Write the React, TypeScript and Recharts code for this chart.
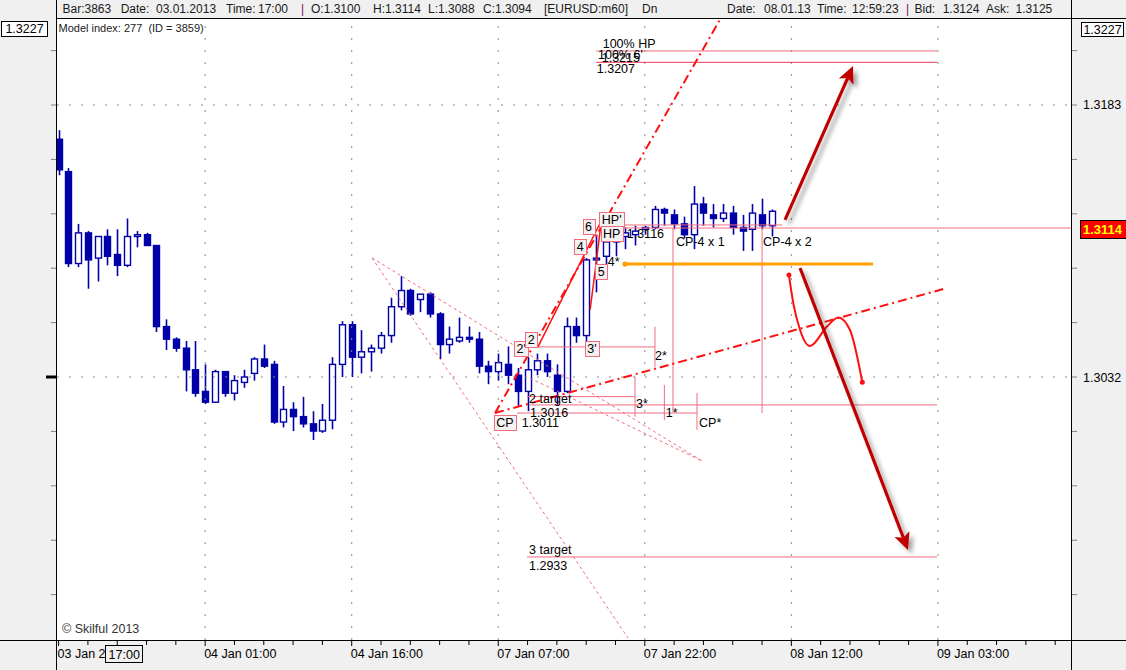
import React from 'react';
import { ComposedChart, XAxis, YAxis, Bar, Scatter, Line, ReferenceLine } from 'recharts';

const FONT = '"Liberation Sans", Arial, sans-serif';
const BLUE = '#0000a8';
const PINK = '#f26c7e';
const PINK2 = '#ee3858';
const RED = '#ff1010';
const DARKRED = '#c00000';
const ORANGE = '#ffa000';
const GRID = '#8a8a8a';

// ---- candle data (EURUSD m60) ----
const opens = [1.3164, 1.3146, 1.3095, 1.3112, 1.3098, 1.3110, 1.3100, 1.3094, 1.3110, 1.3111,
  1.3105, 1.3060, 1.3053, 1.3048, 1.3036, 1.3024, 1.3018, 1.3035, 1.3023, 1.3029,
  1.3034, 1.3042, 1.3039, 1.3007, 1.3014, 1.3010, 1.3006, 1.3002, 1.3008, 1.3039,
  1.3061, 1.3043, 1.3046, 1.3048, 1.3055, 1.3071, 1.3080, 1.3075, 1.3078, 1.3067,
  1.3050, 1.3052, 1.3054, 1.3053, 1.3038, 1.3035, 1.3039, 1.3033, 1.3024, 1.3036,
  1.3041, 1.3033, 1.3024, 1.3060, 1.3055, 1.3097, 1.3099, 1.3107, 1.3110, 1.3111,
  1.3114, 1.3115, 1.3125, 1.3122, 1.3117, 1.3111, 1.3128, 1.3122, 1.3120, 1.3123,
  1.3115, 1.3114, 1.3122, 1.3116];
const highs = [1.3169, 1.3148, 1.3117, 1.3113, 1.3110, 1.3114, 1.3114, 1.3120, 1.3113, 1.3112,
  1.3105, 1.3064, 1.3054, 1.3052, 1.3052, 1.3039, 1.3036, 1.3035, 1.3033, 1.3036,
  1.3043, 1.3050, 1.3041, 1.3027, 1.3018, 1.3021, 1.3013, 1.3017, 1.3043, 1.3063,
  1.3063, 1.3058, 1.3050, 1.3057, 1.3076, 1.3088, 1.3081, 1.3078, 1.3079, 1.3068,
  1.3060, 1.3065, 1.3060, 1.3057, 1.3041, 1.3045, 1.3049, 1.3037, 1.3043, 1.3045,
  1.3045, 1.3039, 1.3065, 1.3065, 1.3098, 1.3111, 1.3111, 1.3120, 1.3115, 1.3116,
  1.3116, 1.3127, 1.3126, 1.3125, 1.3121, 1.3138, 1.3132, 1.3128, 1.3128, 1.3127,
  1.3122, 1.3128, 1.3131, 1.3125];
const lows = [1.3144, 1.3093, 1.3093, 1.3081, 1.3085, 1.3094, 1.3088, 1.3093, 1.3104, 1.3105,
  1.3057, 1.3047, 1.3046, 1.3024, 1.3021, 1.3017, 1.3018, 1.3021, 1.3019, 1.3026,
  1.3030, 1.3037, 1.3006, 1.3004, 1.3002, 1.3004, 1.2997, 1.3001, 1.3003, 1.3032,
  1.3032, 1.3034, 1.3035, 1.3045, 1.3051, 1.3069, 1.3066, 1.3068, 1.3065, 1.3042,
  1.3045, 1.3051, 1.3051, 1.3034, 1.3028, 1.3030, 1.3028, 1.3016, 1.3013, 1.3033,
  1.3032, 1.3016, 1.3023, 1.3051, 1.3051, 1.3079, 1.3094, 1.3099, 1.3103, 1.3105,
  1.3111, 1.3114, 1.3116, 1.3114, 1.3109, 1.3103, 1.3116, 1.3115, 1.3118, 1.3111,
  1.3102, 1.3102, 1.3114, 1.3110];
const closes = [1.3147, 1.3095, 1.3112, 1.3097, 1.3110, 1.3099, 1.3094, 1.3110, 1.3111, 1.3105,
  1.3060, 1.3053, 1.3048, 1.3036, 1.3023, 1.3018, 1.3035, 1.3023, 1.3030, 1.3032,
  1.3042, 1.3038, 1.3007, 1.3014, 1.3010, 1.3006, 1.3002, 1.3008, 1.3039, 1.3061,
  1.3043, 1.3046, 1.3048, 1.3055, 1.3071, 1.3080, 1.3067, 1.3078, 1.3067, 1.3050,
  1.3053, 1.3054, 1.3053, 1.3038, 1.3035, 1.3040, 1.3033, 1.3024, 1.3036, 1.3041,
  1.3035, 1.3024, 1.3060, 1.3055, 1.3097, 1.3098, 1.3107, 1.3110, 1.3112, 1.3113,
  1.3115, 1.3125, 1.3123, 1.3117, 1.3111, 1.3128, 1.3123, 1.3120, 1.3123, 1.3115,
  1.3113, 1.3123, 1.3116, 1.3124];

const candles = opens.map((o, i) => ({ i, o, h: highs[i], l: lows[i], c: closes[i] }));

// ---- axes ----
const X_DOMAIN: [number, number] = [-0.164, 103.62];
const Y_DOMAIN: [number, number] = [1.2886, 1.323074];
const xTicks = [0, 3, 6, 9, 12, 15, 18, 21, 24, 27, 30, 33, 36, 39, 42, 45, 48, 51, 54, 57, 60, 63, 66, 69, 72, 75, 78, 81, 84, 87, 90, 93, 96, 99, 102];
const timeLabelIdx = [0, 15, 30, 45, 60, 75, 90];
const timeLabels = ['03 Jan 2', '04 Jan 01:00', '04 Jan 16:00', '07 Jan 07:00', '07 Jan 22:00', '08 Jan 12:00', '09 Jan 03:00'];
const hoverIdx = 6;
const hoverTime = '17:00';
const priceTicks = [1.29112, 1.29414, 1.29716, 1.30018, 1.3032, 1.30622, 1.30924, 1.31226, 1.31528, 1.3183, 1.32132];
const labeledPrices = [1.3183, 1.3032];
const topPrice = 1.3227;
const lastPrice = 1.3114;
const gridIdx = [15, 30, 45, 60, 75, 90];
const gridPrices = [1.3183, 1.3032];

// ---- annotations (bar index, price) ----
const hLineP = [1.3213, 1.32067, 1.31147, 1.31164, 1.30487, 1.30211, 1.30165, 1.3012, 1.29321];
const hLineFrom = [55.02, 55.02, 55.43, 55.43, 46.92, 47.94, 48.25, 46.92, 47.94];
const hLineTo = [89.91, 89.91, 103.6, 74.04, 61.04, 59.0, 89.91, 65.34, 89.91];
const vLineI = [61.04, 59.0, 62.0, 65.34, 62.88, 72.0];
const vLineTop = [1.30599, 1.30322, 1.30276, 1.30231, 1.31147, 1.31147];
const vLineBot = [1.30377, 1.301, 1.30081, 1.30026, 1.30126, 1.3012];
const wedgeI1 = [32.08, 32.08, 48.25];
const wedgeP1 = [1.30981, 1.30981, 1.30314];
const wedgeI2 = [65.85, 58.28, 65.85];
const wedgeP2 = [1.29854, 1.28871, 1.29854];
const dashDotI1 = [44.67, 44.67];
const dashDotP1 = [1.3012, 1.3012];
const dashDotI2 = [67.71, 90.93];
const dashDotP2 = [1.32306, 1.30814];
const waveI1 = [49.06, 54.40, 55.12];
const waveP1 = [1.30487, 1.30692, 1.30997];
const waveI2 = [55.43, 55.12, 55.43];
const waveP2 = [1.31175, 1.30997, 1.31136];
const levelI = [57.97, 83.36];
const levelP = 1.30947;
const arrowUp = { i1: 74.35, p1: 1.31192, i2: 81.31, p2: 1.32046 };
const arrowDown = { i1: 75.89, p1: 1.30925, i2: 86.94, p2: 1.2936 };
const curveI = [74.75, 75.2, 75.89, 76.91, 78.62, 79.8, 81.0, 82.26];
const curveP = [1.30886, 1.30729, 1.30581, 1.30492, 1.30599, 1.30651, 1.30581, 1.30291];

const boxText = ['CP', "2'", '2', "3'", '4', '6', '5', "HP'", 'HP'];
const boxI = [45.69, 47.35, 48.37, 54.59, 53.39, 54.24, 55.54, 56.61, 56.61];
const boxP = [1.3007, 1.3048, 1.30528, 1.30479, 1.31043, 1.31154, 1.30905, 1.31196, 1.31117];
const noteText = ['1.3116', '4*', '2*', '3*', '1*', 'CP*', '2 target', '1.3016', '1.3011', 'CP-4 x 1', 'CP-4 x 2', '3 target', '1.2933', '100% HP', "100% 6'", '1.3215', '1.3207'];
const noteI = [58.15, 56.2, 61.04, 59.1, 62.14, 65.55, 48.15, 48.25, 47.4, 63.19, 72.1, 48.15, 48.15, 55.69, 55.21, 55.59, 55.08];
const noteP = [1.31118, 1.3096, 1.30442, 1.30173, 1.30123, 1.3007, 1.30203, 1.30123, 1.30067, 1.3107, 1.3107, 1.2936, 1.29276, 1.32171, 1.32113, 1.32094, 1.32035];

const boxData = boxText.map((t, k) => ({ t, i: boxI[k], p: boxP[k] }));
const noteData = noteText.map((t, k) => ({ t, i: noteI[k], p: noteP[k] }));
const curveData = curveI.map((i, k) => ({ i, p: curveP[k] }));

const headLeft: [number, string, string][] = [
  [62.5, 'Bar:3863', '#1a1a1a'], [120.7, 'Date:', '#1a1a1a'], [156, '03.01.2013', '#1a1a1a'], [226, 'Time:', '#1a1a1a'],
  [258, '17:00', '#1a1a1a'], [301, '|', '#7a0a5a'], [311, 'O:1.3100', '#1a1a1a'], [373, 'H:1.3114', '#1a1a1a'],
  [428, 'L:1.3088', '#1a1a1a'], [483, 'C:1.3094', '#1a1a1a'], [544, '[EURUSD:m60]', '#1a1a1a'], [642, 'Dn', '#1a1a1a'],
  [727, 'Date:', '#1a1a1a'], [764, '08.01.13', '#1a1a1a'], [817, 'Time:', '#1a1a1a'], [852, '12:59:23', '#1a1a1a'],
  [906, '|', '#7a0a5a'], [914.5, 'Bid:', '#1a1a1a'], [942.7, '1.3124', '#1a1a1a'], [986, 'Ask:', '#1a1a1a'], [1015.6, '1.3125', '#1a1a1a'],
];

let ctx: any = null;
function textW(t: string, size: number) {
  if (!ctx) ctx = document.createElement('canvas').getContext('2d');
  ctx.font = `${size}px "Liberation Sans"`;
  return ctx.measureText(t).width;
}
const near = (a: number, b: number) => Math.abs(a - b) < 1e-6;

const CandleShape = (props: any) => {
  const { x, y, width, height, payload } = props;
  if (!payload || !isFinite(y) || !isFinite(height)) return <g />;
  const { o, h, l, c } = payload;
  const top0 = Math.min(y, y + height);
  const k = Math.abs(height) / (h - l);
  const Y = (v: number) => top0 + (h - v) * k;
  const cx = Math.round(x + width / 2) + 0.5;
  const up = c >= o;
  const bt = Y(Math.max(o, c));
  const bb = Y(Math.min(o, c));
  return (
    <g>
      <line x1={cx} x2={cx} y1={Y(h)} y2={Y(l)} stroke={BLUE} strokeWidth={1.6} />
      <rect x={cx - 3} y={bt} width={6} height={Math.max(bb - bt, 1)} fill={up ? '#ffffff' : BLUE} stroke={BLUE} strokeWidth={1.4} />
    </g>
  );
};

const BoxLabel = (props: any) => {
  const { cx, cy, payload } = props;
  if (!payload) return <g />;
  const w = Math.max(11, Math.round(textW(payload.t, 12.5) + 5));
  const x0 = Math.round(cx - w / 2) + 0.5;
  const y0 = Math.round(cy - 7.5) + 0.5;
  return (
    <g>
      <rect x={x0} y={y0} width={w} height={15} fill="#f3f1f1" stroke={PINK} strokeWidth={1} />
      <text x={cx} y={cy} dy="0.36em" textAnchor="middle" fontSize={12.5} fill="#000" fontFamily={FONT}>{payload.t}</text>
    </g>
  );
};

const NoteLabel = (props: any) => {
  const { cx, cy, payload } = props;
  if (!payload) return <g />;
  return <text x={cx} y={cy} dy="0.36em" fontSize={12.5} fill="#000" fontFamily={FONT} style={{ whiteSpace: 'pre' }}>{payload.t}</text>;
};

const arrowShape = (id: string) => (p: any) => {
  const { x1, y1, x2, y2 } = p;
  const dx = x2 - x1, dy = y2 - y1, L = Math.hypot(dx, dy) || 1;
  const ux = dx / L, uy = dy / L, px = -uy, py = ux;
  const hl = 17, hw = 8;
  const bx = x2 - ux * hl, by = y2 - uy * hl;
  const nx = x2 - ux * (hl - 4), ny = y2 - uy * (hl - 4);
  return (
    <g>
      <defs>
        <filter id={id} x="-50%" y="-50%" width="200%" height="200%">
          <feDropShadow dx="4" dy="4" stdDeviation="2" floodColor="#000" floodOpacity="0.35" />
        </filter>
      </defs>
      <g filter={`url(#${id})`}>
        <line x1={x1} y1={y1} x2={nx} y2={ny} stroke={DARKRED} strokeWidth={3.2} />
        <polygon points={`${x2},${y2} ${bx + px * hw},${by + py * hw} ${nx},${ny} ${bx - px * hw},${by - py * hw}`} fill={DARKRED} />
      </g>
    </g>
  );
};

const levelShape = (p: any) => {
  const { x1, y1, x2, y2 } = p;
  return (
    <g>
      <defs>
        <filter id="lvlsh" x="-10%" y="-200%" width="120%" height="500%">
          <feGaussianBlur stdDeviation="1.6" />
        </filter>
      </defs>
      <line x1={x1 + 5} y1={y1 + 6} x2={x2 + 5} y2={y2 + 6} stroke="#9a9a9a" strokeWidth={4} filter="url(#lvlsh)" />
      <line x1={x1} y1={y1} x2={x2} y2={y2} stroke={ORANGE} strokeWidth={3} />
      <circle cx={x1} cy={y1} r={2.6} fill={ORANGE} />
    </g>
  );
};

const TimeTick = (props: any) => {
  const { x, y, payload } = props;
  const v = payload.value;
  const li = timeLabelIdx.indexOf(v);
  const major = li >= 0;
  return (
    <g>
      <line x1={x} x2={x} y1={y + 1} y2={y + (major ? 6 : 5)} stroke="#000" strokeWidth={1} />
      {major && (
        <text x={x - 1} y={y + 13} dy="0.36em" fontSize={12.5} fill="#000" fontFamily={FONT}>{timeLabels[li]}</text>
      )}
      {v === hoverIdx && (
        <g>
          <rect x={Math.round(x) - 11.5} y={y + 5.5} width={37} height={17} fill="#f0f0f0" stroke="#000" />
          <text x={x + 7} y={y + 14} dy="0.36em" textAnchor="middle" fontSize={12.5} fill="#000" fontFamily={FONT}>{hoverTime}</text>
        </g>
      )}
    </g>
  );
};

const RightTick = (props: any) => {
  const { x, y, payload } = props;
  const v = payload.value;
  if (near(v, topPrice)) {
    return (
      <g>
        <rect x={x + 10.5} y={Math.round(y) - 3.5} width={42} height={14} fill="#ffffff" stroke="#000" />
        <text x={x + 31.5} y={y + 3.5} dy="0.36em" textAnchor="middle" fontSize={12.5} fill="#000" fontFamily={FONT}>{v.toFixed(4)}</text>
      </g>
    );
  }
  if (near(v, lastPrice)) {
    return (
      <g>
        <rect x={x + 9.5} y={Math.round(y) - 8.5} width={60} height={18} fill="#ff0000" stroke="#000" />
        <text x={x + 12} y={y + 0.5} dy="0.36em" fontSize={13} fontWeight="bold" fill="#ffff00" fontFamily={FONT}>{v.toFixed(4)}</text>
      </g>
    );
  }
  const lab = labeledPrices.some((q) => near(q, v));
  return (
    <g>
      <line x1={x + 1} x2={x + 6} y1={y} y2={y} stroke="#808080" strokeWidth={1} />
      {lab && <text x={x + 12} y={y} dy="0.36em" fontSize={12.5} fill="#000" fontFamily={FONT}>{v.toFixed(4)}</text>}
    </g>
  );
};

const LeftTick = (props: any) => {
  const { x, y, payload } = props;
  const v = payload.value;
  if (near(v, topPrice)) {
    return (
      <g>
        <rect x={1.5} y={Math.round(y) - 4.5} width={46} height={15} fill="#ffffff" stroke="#000" />
        <text x={24.5} y={y + 3} dy="0.36em" textAnchor="middle" fontSize={12.5} fill="#000" fontFamily={FONT}>{v.toFixed(4)}</text>
      </g>
    );
  }
  if (near(v, 1.3032)) {
    return <line x1={x - 11} x2={x - 1} y1={y} y2={y} stroke="#000" strokeWidth={3} />;
  }
  return <line x1={x - 6} x2={x - 1} y1={y} y2={y} stroke="#808080" strokeWidth={1} />;
};

export default function App() {
  return (
    <div style={{ position: 'absolute', left: 0, top: 0, width: 1126, height: 670, background: '#f0f0f0', overflow: 'hidden', fontFamily: FONT }}>
      <div style={{ position: 'absolute', left: 57, top: 19, width: 1014, height: 621, background: '#ffffff' }} />
      <div style={{ position: 'absolute', left: 0, top: 0 }}>
        <ComposedChart width={1126} height={670} data={candles} margin={{ top: 19, right: 0, bottom: 0, left: 0 }}>
          <XAxis dataKey="i" type="number" domain={X_DOMAIN} allowDataOverflow ticks={xTicks} interval={0}
            height={30} tickSize={0} tickMargin={0} tickLine={false} axisLine={false} tick={(p: any) => <TimeTick {...p} />} />
          <YAxis type="number" domain={Y_DOMAIN} allowDataOverflow ticks={[...priceTicks, topPrice]} interval={0}
            width={57} tickSize={0} tickMargin={0} tickLine={false} axisLine={false} tick={(p: any) => <LeftTick {...p} />} />
          <YAxis yAxisId="r" orientation="right" type="number" domain={Y_DOMAIN} allowDataOverflow ticks={[...priceTicks, topPrice, lastPrice]} interval={0}
            width={55} tickSize={0} tickMargin={0} tickLine={false} axisLine={false} tick={(p: any) => <RightTick {...p} />} />

          {gridIdx.map((g) => (
            <ReferenceLine key={'gx' + g} x={g} stroke={GRID} strokeDasharray="2 10" ifOverflow="hidden" />
          ))}
          {gridPrices.map((g) => (
            <ReferenceLine key={'gy' + g} y={g} stroke={GRID} strokeDasharray="2 10" ifOverflow="hidden" />
          ))}

          {wedgeI1.map((_, k) => (
            <ReferenceLine key={'w' + k} segment={[{ x: wedgeI1[k], y: wedgeP1[k] }, { x: wedgeI2[k], y: wedgeP2[k] }]}
              stroke={PINK} strokeWidth={1} strokeDasharray="3 3" ifOverflow="hidden" />
          ))}
          {hLineP.map((p, k) => (
            <ReferenceLine key={'h' + k} segment={[{ x: hLineFrom[k], y: p }, { x: hLineTo[k], y: p }]}
              stroke={k === 1 ? PINK2 : PINK} strokeWidth={1} ifOverflow="hidden" />
          ))}
          {vLineI.map((v, k) => (
            <ReferenceLine key={'v' + k} segment={[{ x: v, y: vLineTop[k] }, { x: v, y: vLineBot[k] }]}
              stroke={PINK} strokeWidth={1} ifOverflow="hidden" />
          ))}

          <Bar dataKey={(d: any) => [d.l, d.h]} shape={(p: any) => <CandleShape {...p} />} isAnimationActive={false} />

          {dashDotI1.map((_, k) => (
            <ReferenceLine key={'dd' + k} segment={[{ x: dashDotI1[k], y: dashDotP1[k] }, { x: dashDotI2[k], y: dashDotP2[k] }]}
              stroke={RED} strokeWidth={2} strokeDasharray="9 4 2 4" ifOverflow="hidden" />
          ))}
          {waveI1.map((_, k) => (
            <ReferenceLine key={'wv' + k} segment={[{ x: waveI1[k], y: waveP1[k] }, { x: waveI2[k], y: waveP2[k] }]}
              stroke={RED} strokeWidth={1.5} ifOverflow="hidden" />
          ))}

          <ReferenceLine segment={[{ x: levelI[0], y: levelP }, { x: levelI[1], y: levelP }]} shape={levelShape} ifOverflow="hidden" />

          <Line data={curveData} dataKey="p" type="monotone" stroke={RED} strokeWidth={2} isAnimationActive={false}
            dot={(p: any) => (p.index === 0 || p.index === curveData.length - 1)
              ? <circle key={'cd' + p.index} cx={p.cx} cy={p.cy} r={2.5} fill={RED} />
              : <g key={'cd' + p.index} />}
            activeDot={false} />

          <ReferenceLine segment={[{ x: arrowUp.i1, y: arrowUp.p1 }, { x: arrowUp.i2, y: arrowUp.p2 }]} shape={arrowShape('shUp')} ifOverflow="hidden" />
          <ReferenceLine segment={[{ x: arrowDown.i1, y: arrowDown.p1 }, { x: arrowDown.i2, y: arrowDown.p2 }]} shape={arrowShape('shDn')} ifOverflow="hidden" />

          <Scatter data={noteData} dataKey="p" shape={(p: any) => <NoteLabel {...p} />} isAnimationActive={false} />
          <Scatter data={boxData} dataKey="p" shape={(p: any) => <BoxLabel {...p} />} isAnimationActive={false} />
        </ComposedChart>
      </div>
      <svg width={1126} height={670} style={{ position: 'absolute', left: 0, top: 0, pointerEvents: 'none' }}>
        <rect x={56} y={0} width={1} height={670} fill="#000" />
        <rect x={1071} y={0} width={1} height={670} fill="#000" />
        <rect x={56} y={18} width={1070} height={1} fill="#000" />
        <rect x={0} y={640} width={1126} height={1} fill="#000" />
        {headLeft.map(([x, t, col], k) => (
          <text key={k} x={x} y={12.5} fontSize={12} fill={col} fontFamily={FONT}>{t}</text>
        ))}
        <text x={58.5} y={28} dy="0.36em" fontSize={11} fill="#222" fontFamily={FONT} style={{ whiteSpace: 'pre' }}>{'Model index: 277  (ID = 3859)'}</text>
        <text x={62} y={628} dy="0.36em" fontSize={12.5} fill="#333" fontFamily={FONT}>© Skilful 2013</text>
      </svg>
    </div>
  );
}
